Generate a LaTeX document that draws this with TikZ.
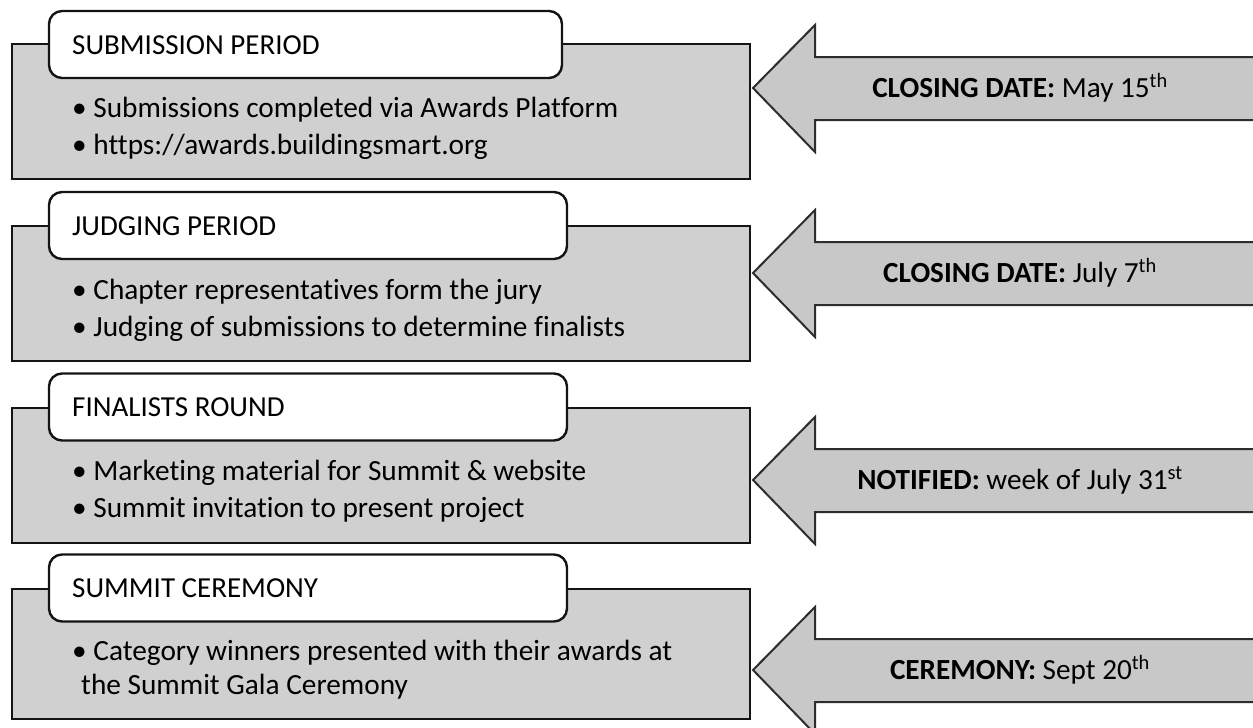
\documentclass[tikz,border=0pt]{standalone}
\usepackage{fontspec}
\setmainfont{Carlito}[Ligatures={NoCommon}]
\definecolor{boxgray}{RGB}{208,208,208}
\definecolor{arrowgray}{RGB}{200,200,200}
\definecolor{edge}{RGB}{20,20,20}
\definecolor{arrowedge}{RGB}{45,45,45}
\begin{document}
\begin{tikzpicture}[x=1pt,y=-1pt,
  phasebox/.style={draw=edge, line width=2.6pt, fill=boxgray, inner sep=0pt, minimum width=738pt},
  labelbox/.style={draw=edge, line width=2.4pt, fill=white, rounded corners=13pt, inner sep=0pt, minimum height=67pt},
  labeltext/.style={anchor=base west, inner sep=0pt, font=\fontsize{29}{35}\selectfont},
  bullettext/.style={anchor=base west, inner sep=0pt, font=\fontsize{29.3}{35}\selectfont},
  datearrow/.style={draw=arrowedge, line width=2pt, fill=arrowgray, line join=miter},
  datetext/.style={anchor=base, inner sep=0pt, font=\fontsize{29.2}{34}\selectfont}]
\clip (0,0) rectangle (1253,728);
\fill[white] (0,0) rectangle (1253,728);

% phase boxes
\node[phasebox, minimum height=135pt] (p1) at (381,111.5) {};
\node[phasebox, minimum height=135pt] (p2) at (381,293.5) {};
\node[phasebox, minimum height=135pt] (p3) at (381,475.5) {};
\node[phasebox, minimum height=130pt] (p4) at (381,654) {};

% label boxes
\node[labelbox, minimum width=513pt] (l1) at (305.5,44.5) {};
\node[labelbox, minimum width=518pt] (l2) at (308,225.5) {};
\node[labelbox, minimum width=518pt] (l3) at (308,407) {};
\node[labelbox, minimum width=518pt] (l4) at (308,588) {};

\node[labeltext] (t1) at (72,54) {SUBMISSION PERIOD};
\node[labeltext] (t2) at (72,235) {JUDGING PERIOD};
\node[labeltext] (t3) at (72,416.5) {FINALISTS ROUND};
\node[labeltext] (t4) at (72,597.5) {SUMMIT CEREMONY};

% bullets
\node[bullettext] (b11) at (72,117) {• Submissions completed via Awards Platform};
\node[bullettext] (b12) at (72,154) {• https://awards.buildingsmart.org};
\node[bullettext] (b21) at (72,299) {• Chapter representatives form the jury};
\node[bullettext] (b22) at (72,336) {• Judging of submissions to determine finalists};
\node[bullettext] (b31) at (72,480) {• Marketing material for Summit \& website};
\node[bullettext] (b32) at (72,517) {• Summit invitation to present project};
\node[bullettext] (b41) at (72,660) {• Category winners presented with their awards at};
\node[bullettext] (b42) at (81,694) {the Summit Gala Ceremony};

% arrows
\foreach \t in {88,273,480,670}{
  \draw[datearrow] (753,\t) -- (815,\t-63) -- (815,\t-31) -- (1265,\t-31)
    -- (1265,\t+32) -- (815,\t+32) -- (815,\t+64) -- cycle;
}
\node[datetext] (d1) at (1020,97) {\textbf{CLOSING DATE:} May 15\textsuperscript{th}};
\node[datetext] (d2) at (1020,282) {\textbf{CLOSING DATE:} July 7\textsuperscript{th}};
\node[datetext] (d3) at (1020,489) {\textbf{NOTIFIED:} week of July 31\textsuperscript{st}};
\node[datetext] (d4) at (1020,679) {\textbf{CEREMONY:} Sept 20\textsuperscript{th}};
\end{tikzpicture}
\end{document}
